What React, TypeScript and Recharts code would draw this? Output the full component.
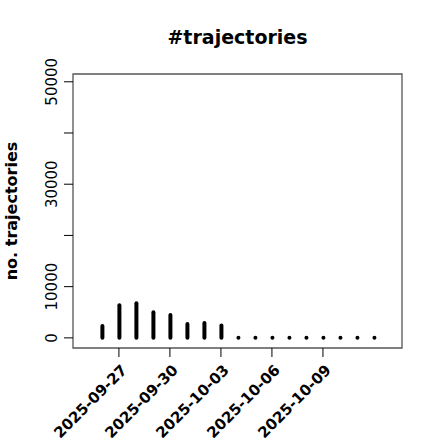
import React from 'react';
import { ComposedChart, Bar, XAxis, YAxis, ReferenceArea } from 'recharts';

const dates = [
  '2025-09-26', '2025-09-27', '2025-09-28', '2025-09-29', '2025-09-30', '2025-10-01',
  '2025-10-02', '2025-10-03', '2025-10-04', '2025-10-05', '2025-10-06', '2025-10-07',
  '2025-10-08', '2025-10-09', '2025-10-10', '2025-10-11', '2025-10-12',
];
const counts = [2300, 6350, 6750, 5000, 4450, 2700, 2900, 2400, 0, 0, 0, 0, 0, 0, 0, 0, 0];
const xTickIdx = [1, 4, 7, 10, 13];
const yTicks = [0, 10000, 20000, 30000, 40000, 50000];
const yTickLabels: Record<number, string> = { 0: '0', 10000: '10000', 30000: '30000', 50000: '50000' };

const data = dates.map((d, i) => ({ idx: i, date: d, n: counts[i] }));

const FONT = 'DejaVu Sans, sans-serif';

const Stick = (props: any) => {
  const { x, y, width, height } = props;
  const cx = x + width / 2;
  return (
    <line x1={cx} x2={cx} y1={y} y2={y + height} stroke="#000" strokeWidth={4} strokeLinecap="round" />
  );
};

const XTick = (props: any) => {
  const { x, y, payload } = props;
  const label = dates[payload.value] ?? '';
  return (
    <g transform={`translate(${x + 2},${y + 5})`}>
      <text transform="rotate(-45)" textAnchor="end" dy={10} fontFamily={FONT} fontWeight="bold" fontSize={15} fill="#000">
        {label}
      </text>
    </g>
  );
};

const YTick = (props: any) => {
  const { y, payload } = props;
  const label = yTickLabels[payload.value] ?? '';
  return (
    <g transform={`translate(57,${y})`}>
      <text transform="rotate(-90)" textAnchor="middle" fontFamily={FONT} fontSize={15} fill="#000">
        {label}
      </text>
    </g>
  );
};

export default function App() {
  return (
    <div style={{ position: 'absolute', left: 0, top: 0, width: 440, height: 440, background: '#fff' }}>
      <div
        style={{
          position: 'absolute', left: 73, width: 329, top: 26, textAlign: 'center',
          fontFamily: FONT, fontWeight: 'bold', fontSize: 19, lineHeight: '22px', color: '#000',
        }}
      >
        #trajectories
      </div>
      <ComposedChart
        width={440}
        height={440}
        data={data}
        margin={{ top: 74, right: 38, left: 0, bottom: 0 }}
      >
        <XAxis
          dataKey="idx"
          type="number"
          domain={[-1.7, 17.65]}
          allowDataOverflow
          ticks={xTickIdx}
          interval={0}
          height={92}
          axisLine={false}
          tickLine={{ stroke: '#000' }}
          tickSize={9}
          tick={<XTick />}
        />
        <YAxis
          type="number"
          domain={[-1980, 51520]}
          allowDataOverflow
          ticks={yTicks}
          interval={0}
          width={73}
          axisLine={false}
          tickLine={{ stroke: '#000' }}
          tickSize={9}
          tick={<YTick />}
          label={{
            value: 'no. trajectories', angle: -90, position: 'insideLeft',
            style: { fontFamily: FONT, fontWeight: 'bold', fontSize: 16, fill: '#000', textAnchor: 'middle' },
            dx: 6,
          }}
        />
        <ReferenceArea x1={-1.7} x2={17.65} y1={-1980} y2={51520} fill="none" stroke="#555" strokeWidth={1.3} ifOverflow="visible" />
        <Bar dataKey="n" barSize={4} shape={<Stick />} isAnimationActive={false} />
      </ComposedChart>
    </div>
  );
}
